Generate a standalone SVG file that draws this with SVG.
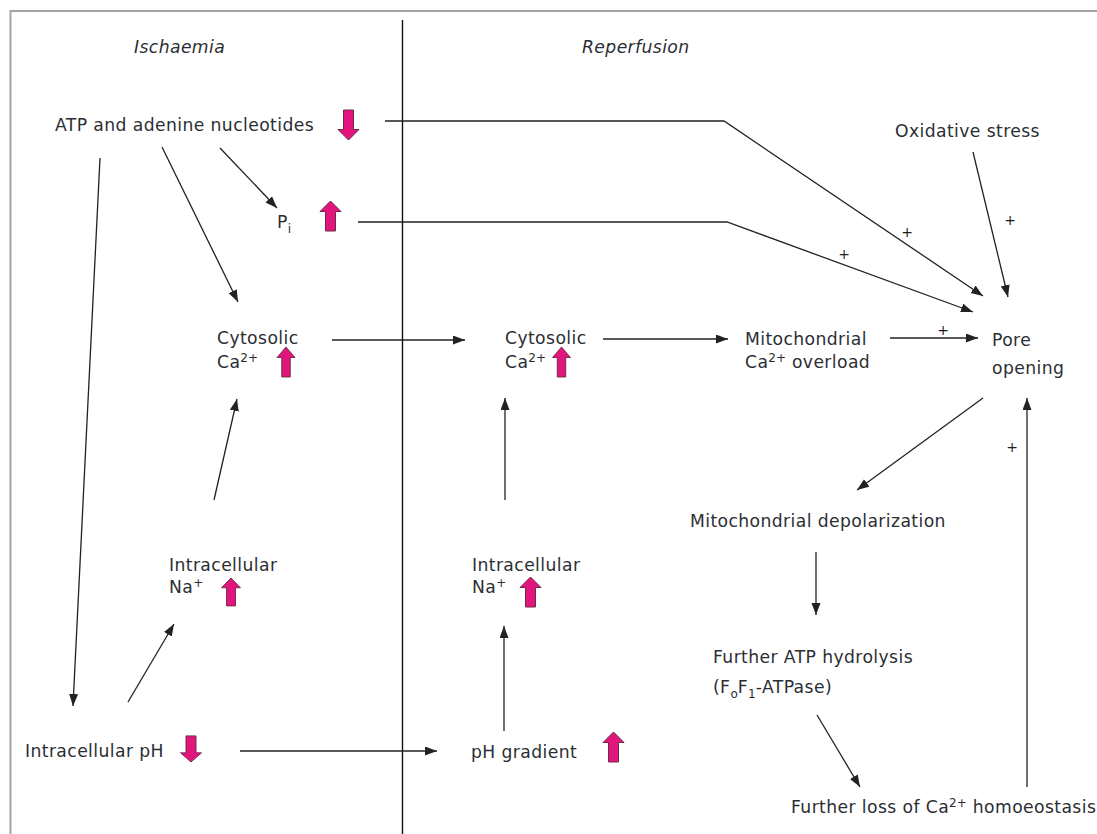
<svg xmlns="http://www.w3.org/2000/svg" width="1097" height="834" viewBox="0 0 1097 834">
  <style>
    .t { font-family: "DejaVu Sans", "Liberation Sans", sans-serif; font-size: 17.2px; letter-spacing: 0.4px; fill: #2b2e33; }
    .it { font-style: italic; }
    .sup { font-size: 12px; letter-spacing: 0; }
    .plus { font-family: "DejaVu Sans", "Liberation Sans", sans-serif; font-size: 14px; fill: #1e1e1e; text-anchor: middle; }
    .conn { fill: none; stroke: #222; stroke-width: 1.3; marker-end: url(#head); }
    .frame { fill: none; stroke: #a3a3a3; stroke-width: 2; }
    .divider { stroke: #111; stroke-width: 1.4; }
    .blk { fill: #e2157e; stroke: #6d2a45; stroke-width: 1; stroke-linejoin: miter; }
  </style>
  <defs>
    <marker id="head" markerUnits="userSpaceOnUse" markerWidth="13" markerHeight="10" refX="12" refY="4.5" orient="auto">
      <path d="M0,0 L12,4.5 L0,9 Z" fill="#222"/>
    </marker>
    <!-- block arrow pointing up, tip at origin -->
    <path id="up" d="M0,0 L10.5,10.5 L5,10.5 L5,30 L-5,30 L-5,10.5 L-10.5,10.5 Z"/>
  </defs>

  <rect width="1097" height="834" fill="#fff"/>

  <!-- outer frame (left and top edges) and phase divider -->
  <path class="frame" d="M10.5,834 L10.5,11 L1097,11"/>
  <line class="divider" x1="402.5" y1="20" x2="402.5" y2="834"/>

  <!-- phase headings -->
  <text class="t it" x="134" y="53">Ischaemia</text>
  <text class="t it" x="582" y="53">Reperfusion</text>

  <!-- connectors -->
  <g id="connectors">
    <polyline class="conn" points="385,121 724,121 983,296"/>
    <polyline class="conn" points="358,222 727,222 973,312"/>
    <line class="conn" x1="973" y1="152" x2="1008" y2="297"/>
    <line class="conn" x1="890" y1="338" x2="978" y2="338"/>
    <line class="conn" x1="603" y1="339" x2="728" y2="339"/>
    <line class="conn" x1="332" y1="340" x2="465" y2="340"/>
    <line class="conn" x1="505" y1="500" x2="505" y2="398"/>
    <line class="conn" x1="214" y1="500" x2="237" y2="399"/>
    <line class="conn" x1="162" y1="147" x2="238" y2="302"/>
    <line class="conn" x1="220" y1="148" x2="277" y2="208"/>
    <line class="conn" x1="100" y1="158" x2="73" y2="706"/>
    <line class="conn" x1="128" y1="702" x2="174" y2="624"/>
    <line class="conn" x1="504" y1="731" x2="504" y2="626"/>
    <line class="conn" x1="240" y1="751" x2="437" y2="751"/>
    <line class="conn" x1="983" y1="398" x2="857" y2="490"/>
    <line class="conn" x1="816" y1="552" x2="816" y2="615"/>
    <line class="conn" x1="817" y1="715" x2="860" y2="787"/>
    <line class="conn" x1="1027" y1="787" x2="1027" y2="398"/>
    <text class="plus" x="907" y="237">+</text>
    <text class="plus" x="844" y="259">+</text>
    <text class="plus" x="1010" y="225">+</text>
    <text class="plus" x="943" y="335">+</text>
    <text class="plus" x="1012" y="452">+</text>
  </g>

  <!-- nodes -->
  <g id="atp">
    <text class="t" x="55" y="131">ATP and adenine nucleotides</text>
    <use href="#up" class="blk" transform="translate(348.5,140) rotate(180)"/>
  </g>
  <g id="pi">
    <text class="t" x="277" y="228">P<tspan class="sup" dy="5">i</tspan></text>
    <use href="#up" class="blk" transform="translate(330.5,201)"/>
  </g>
  <g id="oxidative">
    <text class="t" x="895" y="137">Oxidative stress</text>
  </g>
  <g id="cyto-isch">
    <text class="t" x="217" y="344">Cytosolic</text>
    <text class="t" x="217" y="368">Ca<tspan class="sup" dy="-6">2+</tspan></text>
    <use href="#up" class="blk" transform="translate(286,347) scale(0.85,1)"/>
  </g>
  <g id="cyto-rep">
    <text class="t" x="505" y="344">Cytosolic</text>
    <text class="t" x="505" y="368">Ca<tspan class="sup" dy="-6">2+</tspan></text>
    <use href="#up" class="blk" transform="translate(561.5,347) scale(0.85,1)"/>
  </g>
  <g id="mito-overload">
    <text class="t" x="745" y="345">Mitochondrial</text>
    <text class="t" x="745" y="368">Ca<tspan class="sup" dy="-6">2+</tspan><tspan dy="6"> overload</tspan></text>
  </g>
  <g id="pore">
    <text class="t" x="992" y="346">Pore</text>
    <text class="t" x="992" y="374">opening</text>
  </g>
  <g id="na-isch">
    <text class="t" x="169" y="571">Intracellular</text>
    <text class="t" x="169" y="593">Na<tspan class="sup" dy="-6">+</tspan></text>
    <use href="#up" class="blk" transform="translate(231,578) scale(0.9,0.93)"/>
  </g>
  <g id="na-rep">
    <text class="t" x="472" y="571">Intracellular</text>
    <text class="t" x="472" y="593">Na<tspan class="sup" dy="-6">+</tspan></text>
    <use href="#up" class="blk" transform="translate(530.5,577)"/>
  </g>
  <g id="ph-isch">
    <text class="t" x="25" y="757">Intracellular pH</text>
    <use href="#up" class="blk" transform="translate(191,762) rotate(180) scale(1,0.87)"/>
  </g>
  <g id="ph-gradient">
    <text class="t" x="471" y="758">pH gradient</text>
    <use href="#up" class="blk" transform="translate(613.5,732)"/>
  </g>
  <g id="depolarization">
    <text class="t" x="690" y="527">Mitochondrial depolarization</text>
  </g>
  <g id="hydrolysis">
    <text class="t" x="713" y="663">Further ATP hydrolysis</text>
    <text class="t" x="713" y="693">(F<tspan class="sup" dy="5">o</tspan><tspan dy="-5">F</tspan><tspan class="sup" dy="5">1</tspan><tspan dy="-5">-ATPase)</tspan></text>
  </g>
  <g id="ca-loss">
    <text class="t" x="791" y="813" letter-spacing="0.25">Further loss of Ca<tspan class="sup" dy="-6">2+</tspan><tspan dx="6" dy="6">homoeostasis</tspan></text>
  </g>
</svg>
